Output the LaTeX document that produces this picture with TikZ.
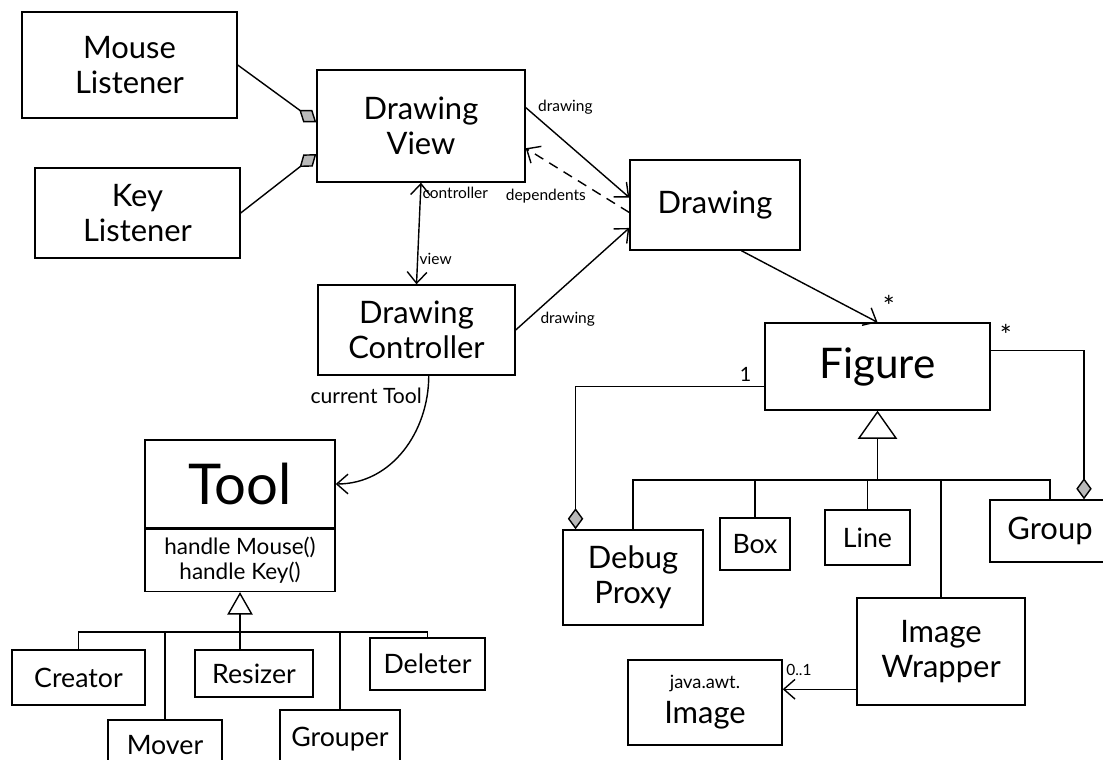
\documentclass[tikz,border=0pt]{standalone}
\usepackage{fontspec}
\setmainfont{Lato}
\usetikzlibrary{arrows.meta}

\begin{document}
\begin{tikzpicture}[x=0.025cm, y=-0.025cm, line width=1pt,
    cls/.style 2 args={draw, fill=white, inner sep=2pt, align=center,
      minimum width=#1*0.025cm, minimum height=#2*0.025cm,
      font=\fontsize{22}{25}\selectfont},
    sub/.style={font=\fontsize{19}{22}\selectfont},
    lbl/.style={font=\fontsize{11}{13}\selectfont, inner sep=1pt},
    nav/.style={-{Straight Barb[length=8pt,width=14pt]}},
    navboth/.style={{Straight Barb[length=8pt,width=14pt]}-{Straight Barb[length=8pt,width=14pt]}},
    owned/.style={-{Diamond[fill=gray!55,length=15pt,width=11pt]}},
    inherit/.style={-{Triangle[open,length=20pt,width=28pt]}},
    inheritsmall/.style={-{Triangle[open,length=16pt,width=18pt]}}]

  \useasboundingbox (0,0) rectangle (1103,760);

  % upper classes
  \node[cls={215}{106}] (mouse) at (129.5,65) {Mouse\\Listener};
  \node[cls={205}{90}] (key) at (137.5,213) {Key\\Listener};
  \node[cls={208}{112}] (view) at (421,126) {Drawing\\View};
  \node[cls={170}{90}] (drawing) at (715,205) {Drawing};
  \node[cls={197}{90}] (ctrl) at (416.5,330) {Drawing\\Controller};
  \node[cls={225}{87}, font=\fontsize{30}{34}\selectfont] (figure) at (877.5,366.5) {Figure};

  % tool and its operations
  \node[cls={190}{88}, font=\fontsize{40}{44}\selectfont] (tool) at (240,484) {Tool};
  \node[cls={190}{62}, font=\fontsize{16}{18}\selectfont, anchor=north] (toolops) at (tool.south) {handle Mouse()\\handle Key()};

  % tool subclasses
  \node[cls={133}{55}, sub] (creator) at (78.5,677.5) {Creator};
  \node[cls={114}{50}, sub] (mover) at (165,745) {Mover};
  \node[cls={118}{47}, sub] (resizer) at (254,673.5) {Resizer};
  \node[cls={120}{58}, sub] (grouper) at (340,739) {Grouper};
  \node[cls={115}{52}, sub] (deleter) at (427.5,664) {Deleter};

  % figure subclasses
  \node[cls={140}{95}] (proxy) at (633,577.5) {Debug\\Proxy};
  \node[cls={70}{52}, sub] (fbox) at (755,544) {Box};
  \node[cls={85}{55}, sub] (fline) at (867.5,537.5) {Line};
  \node[cls={120}{62}] (group) at (1050,531) {Group};
  \node[cls={168}{107}] (wrapper) at (941,651.5) {Image\\Wrapper};
  \node[cls={154}{85}] (awt) at (705,702.5) {{\fontsize{13}{15}\selectfont java.awt.}\\Image};

  % listeners
  \draw[owned] (mouse.east) -- (view.178);
  \draw[owned] (key.east) -- (view.195);

  % view and controller
  \draw[navboth] (view.south) -- (ctrl.north)
    node[lbl, pos=0.1, right] {controller}
    node[lbl, pos=0.75, right] {view};

  % links to the drawing
  \draw[nav] (view.10) -- (drawing.175) node[lbl, pos=0.1, above right] {drawing};
  \draw[nav, dash pattern=on 7pt off 5pt] (drawing.185) -- (view.348) node[lbl, pos=0.4, below left] {dependents};
  \draw[nav] (ctrl.east) -- (drawing.195) node[lbl, pos=0.2, below right] {drawing};
  \draw[nav] (drawing.300) -- (figure.north) node[pos=1, above right, font=\fontsize{20}{20}\selectfont] {*};

  % figure owners
  \draw[owned] (figure.190) -| (proxy.140) node[pos=0.02, above left, font=\fontsize{14}{14}\selectfont] {1};
  \draw[owned] (figure.8) -| (group.43) node[pos=0.02, above right, font=\fontsize{20}{20}\selectfont] {*};

  % figure hierarchy
  \coordinate (fbar) at (877.5,480);
  \draw[inherit] (fbar) -- (figure.south);
  \draw (proxy.north) |- (fbar) -| (group.north);
  \foreach \n in {fbox,fline,wrapper}
    \draw (\n.north) -- (\n.north |- fbar);

  % tool hierarchy
  \coordinate (tbar) at (240,632);
  \draw[inheritsmall] (resizer.north -| tbar) -- (toolops.south);
  \draw (creator.north) |- (tbar) -| (deleter.north);
  \foreach \n in {mover,grouper}
    \draw (\n.north) -- (\n.north |- tbar);

  % current tool
  \draw[nav] (ctrl.285) to[out=-90, in=0]
    node[pos=0.12, left, font=\fontsize{15}{17}\selectfont] {current Tool} (tool.east);

  % wrapped image
  \draw[nav] (wrapper.204) -- (wrapper.204 -| awt.east)
    node[lbl, pos=0.78, above=8pt] {0..1};
\end{tikzpicture}
\end{document}
